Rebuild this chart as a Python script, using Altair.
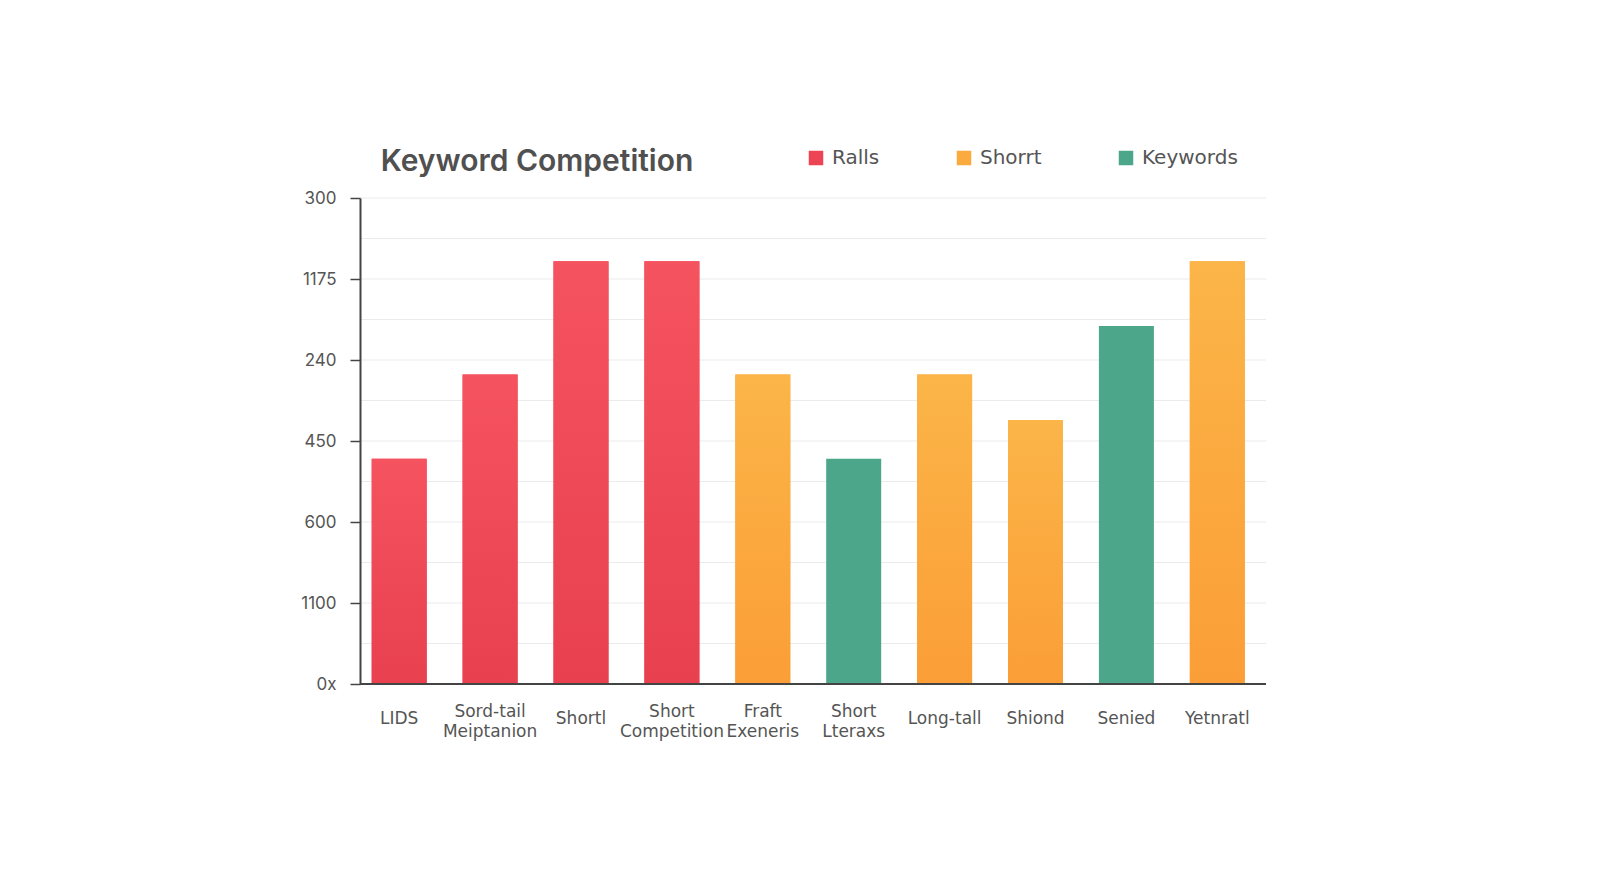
import altair as alt
import pandas as pd

categories = ["LIDS", "Sord-tail\nMeiptanion", "Shortl", "Short\nCompetition", "Fraft\nExeneris",
              "Short\nLteraxs", "Long-tall", "Shiond", "Senied", "Yetnratl"]
series = ["Ralls", "Ralls", "Ralls", "Ralls", "Shorrt", "Keywords", "Shorrt", "Shorrt", "Keywords", "Shorrt"]
values = [139, 191, 261, 261, 191, 139, 191, 163, 221, 261]

legend_names = ["Ralls", "Shorrt", "Keywords"]
legend_colors = ["#EC4454", "#FBAA3E", "#4CA68A"]

ytick_values = [0, 25, 50, 75, 100, 125, 150, 175, 200, 225, 250, 275, 300]
ytick_labels = {0: "0x", 50: "1100", 100: "600", 150: "450", 200: "240", 250: "1175", 300: "300"}

df = pd.DataFrame({"cat": categories, "series": series, "value": values})
grid_df = pd.DataFrame({"value": ytick_values[1:]})
baseline_df = pd.DataFrame({"value": [0]})

label_expr = "{" + ",".join(f"'{k}':'{v}'" for k, v in ytick_labels.items()) + "}[datum.value] || ''"

yscale = alt.Scale(domain=[0, 300], nice=False)

x = alt.X("cat:N", sort=categories, title=None,
          scale=alt.Scale(range=[11.7, 884.8], paddingInner=0.395, paddingOuter=0),
          axis=alt.Axis(labelExpr="split(datum.label, '\\n')", labelAngle=0, ticks=False, domain=False,
                        labelPadding=alt.condition("indexof(datum.value, '\\n') < 0", alt.value(34), alt.value(27)),
                        labelBaseline="middle", labelLineHeight=20,
                        labelFontSize=17, labelColor="#555555", labelFont="DejaVu Sans", grid=False))
y = alt.Y("value:Q", title=None, scale=yscale,
          axis=alt.Axis(values=ytick_values, labelExpr=label_expr, zindex=1,
                        tickColor=alt.condition("datum.value % 50 === 0", alt.value("#444444"), alt.value("transparent")),
                        tickSize=10, tickWidth=1.5, labelPadding=14, labelFontSize=17,
                        labelColor="#555555", labelFont="Inter",
                        domainColor="#444444", domainWidth=2, grid=False))

grid = alt.Chart(grid_df).mark_rule(color="#EBEBEB", strokeWidth=1).encode(
    y=alt.Y("value:Q", scale=yscale))

base = alt.Chart(df).mark_bar().encode(
    x=x, y=y,
    color=alt.Color("series:N", scale=alt.Scale(domain=legend_names, range=legend_colors),
                    legend=alt.Legend(title=None, orient="none", direction="horizontal",
                                      legendX=446, legendY=-50, symbolType="square",
                                      symbolSize=210, symbolStrokeWidth=0, labelFontSize=20,
                                      labelColor="#555555", labelFont="DejaVu Sans", labelOffset=6,
                                      columnPadding=74)),
)

red_grad = alt.Gradient(gradient="linear", x1=0, x2=0, y1=0, y2=1,
                        stops=[alt.GradientStop(color="#F5535F", offset=0),
                               alt.GradientStop(color="#E8404F", offset=1)])
orange_grad = alt.Gradient(gradient="linear", x1=0, x2=0, y1=0, y2=1,
                           stops=[alt.GradientStop(color="#FBB548", offset=0),
                                  alt.GradientStop(color="#FB9E37", offset=1)])

red_layer = alt.Chart(df).transform_filter(alt.datum.series == "Ralls").mark_bar(color=red_grad).encode(x=x, y=y)
orange_layer = alt.Chart(df).transform_filter(alt.datum.series == "Shorrt").mark_bar(color=orange_grad).encode(x=x, y=y)

x_axis_line = alt.Chart(baseline_df).mark_rule(color="#444444", strokeWidth=2).encode(
    y=alt.Y("value:Q", scale=yscale))

chart = alt.layer(grid, base, red_layer, orange_layer, x_axis_line).properties(
    width=906, height=486,
    title=alt.TitleParams("Keyword Competition", anchor="start", dx=80, dy=43, fontSize=30,
                          font="Inter", fontWeight=600, color="#505050", offset=14),
    autosize=alt.AutoSizeParams(type="none"),
    padding={"left": 352, "top": 190, "right": 300, "bottom": 150},
    background="#FFFFFF",
).configure_view(stroke=None)

chart.save("out.html", embed_options={"renderer": "svg", "actions": False})
